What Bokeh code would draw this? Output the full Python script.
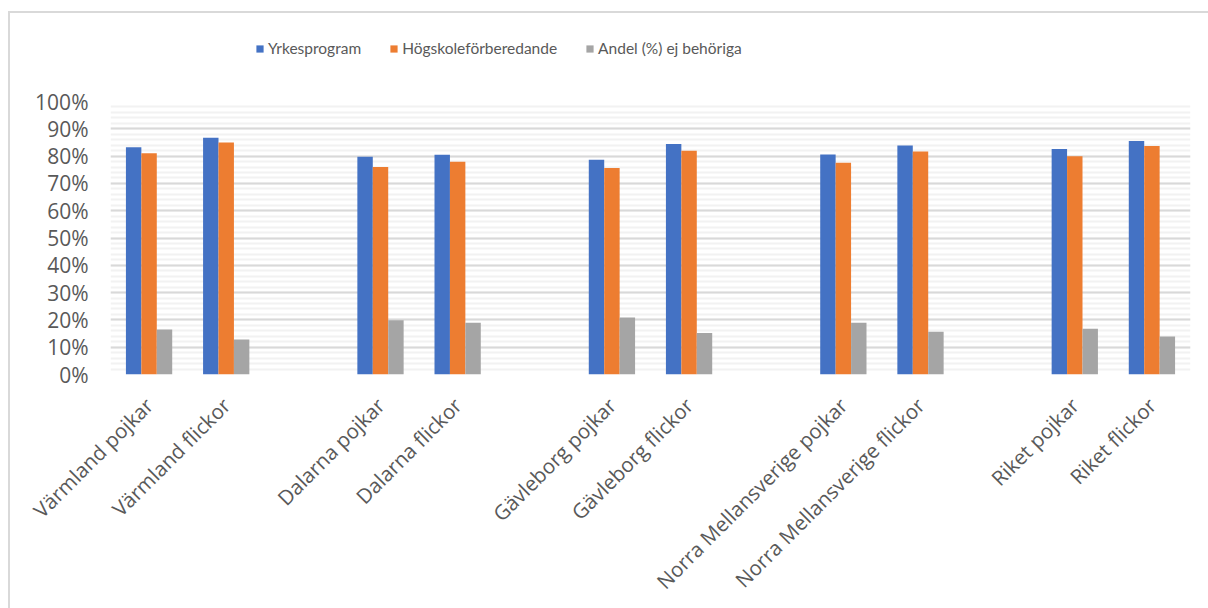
import math
from bokeh.plotting import figure
from bokeh.layouts import column
from bokeh.models import (ColumnDataSource, FactorRange, Range1d, SingleIntervalTicker,
                          PrintfTickFormatter, Legend, LegendItem)
from bokeh.transform import dodge
from bokeh.embed import file_html
from bokeh.resources import INLINE

# ---- data ----
categories = ["Värmland pojkar", "Värmland flickor",
              "Dalarna pojkar", "Dalarna flickor",
              "Gävleborg pojkar", "Gävleborg flickor",
              "Norra Mellansverige pojkar", "Norra Mellansverige flickor",
              "Riket pojkar", "Riket flickor"]
yrkesprogram = [83.2, 86.7, 79.8, 80.5, 78.7, 84.4, 80.6, 83.9, 82.6, 85.5]
hogskole = [81.0, 85.0, 76.0, 77.9, 75.6, 82.0, 77.6, 81.7, 79.9, 83.7]
andel_ej = [16.5, 12.8, 19.9, 19.0, 20.9, 15.2, 19.0, 15.7, 16.8, 13.9]
series_names = ["Yrkesprogram", "Högskoleförberedande", "Andel (%) ej behöriga"]
colors = ["#4472C4", "#ED7D31", "#A5A5A5"]

# axis factors: blank spacer categories between the regions
factors = []
gap = 1
for i, c in enumerate(categories):
    factors.append(c)
    if i % 2 == 1 and i < len(categories) - 1:
        factors.append(" " * gap)
        gap += 1

source = ColumnDataSource(dict(cat=categories, y1=yrkesprogram, y2=hogskole, y3=andel_ej))

FONT = "Open Sans"
TXT = "#595959"
BORDER = "#d9d9d9"

W = 1198          # inner width (page 10 .. 1208)
H = 595           # inner height (page 13 .. 608)
LEG_H = 60

# ---------------- legend strip ----------------
leg = figure(width=W, height=LEG_H, x_range=Range1d(0, 1), y_range=Range1d(0, 1),
             output_backend="svg", toolbar_location=None, min_border=0)
leg.axis.visible = False
leg.grid.grid_line_color = None
leg.outline_line_color = None
# zero-height swatch renderers (only used for the legend keys)
swatches = [leg.vbar(x=[0.5], top=[0], bottom=[0], width=0.0, fill_color=c, line_color=None)
            for c in colors]
legend = Legend(items=[LegendItem(label=n, renderers=[r]) for n, r in zip(series_names, swatches)],
                orientation="horizontal", location=(145, 15),
                glyph_width=9, glyph_height=9, label_standoff=4, spacing=28,
                label_height=20, padding=0, margin=0,
                border_line_color=None, background_fill_alpha=0,
                label_text_font="Lato", label_text_font_size="15.5px", label_text_color=TXT)
leg.add_layout(legend, "center")

# ---------------- main chart ----------------
p = figure(x_range=FactorRange(factors=factors), y_range=Range1d(0, 100),
           width=W, height=H - LEG_H, output_backend="svg", toolbar_location=None,
           min_border_left=100, min_border_right=18, min_border_top=101 - 13 - LEG_H,
           min_border_bottom=234)
p.outline_line_color = None
p.background_fill_color = "white"

renderers = []
for field, off, col in zip(["y1", "y2", "y3"], [-0.2, 0.0, 0.2], colors):
    r = p.vbar(x=dodge("cat", off, range=p.x_range), top=field, width=0.2,
               source=source, fill_color=col, line_color=None)
    renderers.append(r)

# y axis
p.yaxis.ticker = SingleIntervalTicker(interval=10, num_minor_ticks=5)
p.yaxis.formatter = PrintfTickFormatter(format="%d%%")
p.yaxis.axis_line_color = None
p.yaxis.major_tick_line_color = None
p.yaxis.minor_tick_line_color = None
p.yaxis.major_tick_out = 0
p.yaxis.minor_tick_out = 0
p.yaxis.major_label_standoff = 22
p.yaxis.major_label_text_font = FONT
p.yaxis.major_label_text_font_size = "21px"
p.yaxis.major_label_text_color = TXT

p.ygrid.grid_line_color = "#d9d9d9"
p.ygrid.grid_line_width = 2
p.ygrid.minor_grid_line_color = "#f2f2f2"
p.ygrid.minor_grid_line_width = 2
p.xgrid.grid_line_color = None

# x axis
p.xaxis.axis_line_color = None
p.xaxis.major_tick_line_color = None
p.xaxis.minor_tick_line_color = None
p.xaxis.major_tick_out = 0
p.xaxis.minor_tick_out = 0
p.xaxis.major_label_orientation = math.pi / 4
p.xaxis.major_label_standoff = 27
p.xaxis.major_label_text_font = FONT
p.xaxis.major_label_text_font_size = "20.5px"
p.xaxis.major_label_text_color = TXT

layout = column(leg, p, spacing=0, margin=(11, 0, 0, 8),
                styles={"border-left": "2px solid " + BORDER, "border-top": "2px solid " + BORDER})
open("out.html", "w").write(file_html(layout, INLINE))
